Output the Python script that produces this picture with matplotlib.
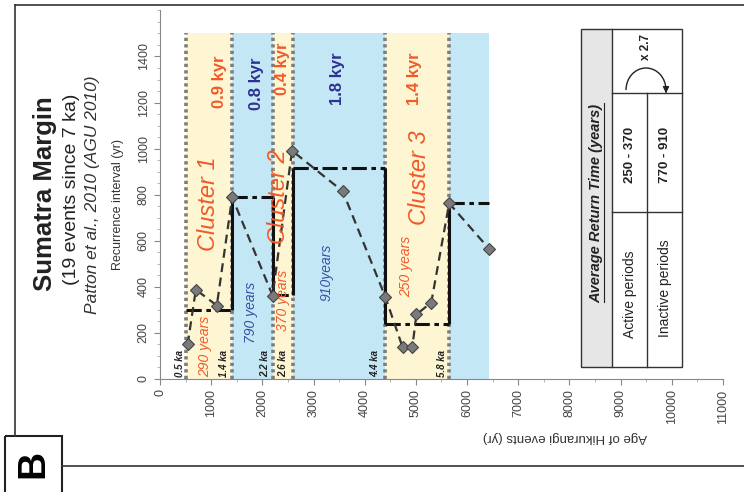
import numpy as np
import matplotlib
matplotlib.use("Agg")
import matplotlib.pyplot as plt
from matplotlib.patches import Rectangle, Arc

plt.rcParams["font.family"] = ["Liberation Sans", "DejaVu Sans"]

# event ages (yr) and recurrence intervals (yr)
ages = [540, 700, 1110, 1410, 2200, 2580, 3570, 4400, 4740, 4930, 5010, 5300, 5650, 6430]
intervals = [150, 388, 319, 789, 362, 991, 815, 358, 138, 138, 280, 332, 763, 565]

# active / inactive periods
period_start = [500, 1400, 2200, 2600, 4400, 5650]
period_end = [1400, 2200, 2600, 4400, 5650, 6430]
period_active = [True, False, True, False, True, False]
period_mean = [300, 790, 365, 915, 240, 765]
period_top = 1500

# boundary labels
boundary_x = [500, 1400, 2200, 2600, 4400, 5650]
boundary_labels = ["0.5 ka", "1.4 ka", "2.2 ka", "2.6 ka", "4.4 ka", "5.8 ka"]
boundary_label_x = [390, 1250, 2050, 2400, 4210, 5515]

# duration labels
kyr_labels = ["0.9 kyr", "0.8 kyr", "0.4 kyr", "1.8 kyr", "1.4 kyr"]
kyr_x = [1170, 1890, 2400, 3470, 4970]
kyr_y = [1290, 1280, 1345, 1305, 1305]
kyr_active = [True, False, True, False, True]

cluster_labels = ["Cluster 1", "Cluster 2", "Cluster 3"]
cluster_x = [940, 2320, 5070]
cluster_y = [760, 790, 872]

year_labels = ["290 years", "790 years", "370 years", "910years", "250 years"]
year_x = [877, 1775, 2400, 3250, 4800]
year_y = [140, 290, 343, 465, 490]
year_active = [True, False, True, False, True]

ORANGE = "#f15a29"
NAVY = "#2e3192"
BLUE = "#3d4ea3"
YELLOW = "#fef6d3"
SKY = "#c4e7f6"

fig = plt.figure(figsize=(7.44, 4.92), dpi=100)

# overlay in pixel coordinates for frame, titles and table
ov = fig.add_axes([0, 0, 1, 1])
ov.set_xlim(0, 744)
ov.set_ylim(492, 0)
ov.axis("off")

ov.plot([15, 744], [5, 5], color="#333", lw=1.2)
ov.plot([15, 15], [5, 436], color="#333", lw=1.2)
ov.plot([62, 744], [466, 466], color="#333", lw=1.2)
ov.add_patch(Rectangle((5, 436), 57, 60, fill=False, ec="#222", lw=1.5))
ov.text(33, 464, "B", rotation=90, fontsize=28, fontweight="bold", ha="center", va="center")

ov.text(45, 194, "Sumatra Margin", rotation=90, fontsize=18.5, fontweight="bold",
        ha="center", va="center", color="#222")
ov.text(71, 189, "(19 events since 7 ka)", rotation=90, fontsize=14,
        ha="center", va="center", color="#222")
ov.text(92, 195, "Patton et al., 2010 (AGU 2010)", rotation=90, fontsize=12.5,
        style="italic", ha="center", va="center", color="#333")
ov.text(118, 205, "Recurrence interval (yr)", rotation=90, fontsize=9,
        ha="center", va="center", color="#333")
ov.text(565, 437, "Age of Hikurangi events (yr)", rotation=180, fontsize=9.5,
        ha="center", va="center", color="#333")

# table
ov.add_patch(Rectangle((581, 29), 31, 338, fc="#e6e6e6", ec="none"))
ov.add_patch(Rectangle((581, 29), 101, 338, fill=False, ec="#333", lw=1))
ov.plot([612, 612], [29, 367], color="#333", lw=1)
ov.plot([647, 647], [93, 367], color="#333", lw=1)
ov.plot([612, 682], [93, 93], color="#333", lw=1)
ov.plot([612, 682], [212, 212], color="#333", lw=1)
ov.text(596, 203, "Average Return Time (years)", rotation=90, fontsize=10.5,
        style="italic", fontweight="bold", ha="center", va="center", color="#222")
ov.plot([604, 604], [103, 302], color="#222", lw=0.8)
ov.text(630, 155, "250 - 370", rotation=90, fontsize=9.5, fontweight="bold",
        ha="center", va="center", color="#222")
ov.text(665, 155, "770 - 910", rotation=90, fontsize=9.5, fontweight="bold",
        ha="center", va="center", color="#222")
ov.text(630, 294, "Active periods", rotation=90, fontsize=10,
        ha="center", va="center", color="#222")
ov.text(665, 288, "Inactive periods", rotation=90, fontsize=10,
        ha="center", va="center", color="#222")
ov.add_patch(Arc((646, 90), 40, 44, theta1=180, theta2=360, color="#222", lw=1))
ov.annotate("", xy=(666, 96), xytext=(666, 88),
            arrowprops=dict(arrowstyle="-|>", color="#222", lw=1, mutation_scale=9))
ov.text(646, 47, "x 2.7", rotation=90, fontsize=8.5, fontweight="bold",
        ha="center", va="center", color="#222")

# main chart
ax = fig.add_axes([160 / 744, (492 - 379) / 492, 563 / 744, 368.6 / 492])
ax.patch.set_alpha(0)

widths = [e - s for s, e in zip(period_start, period_end)]
ax.bar(period_start, [period_top] * len(period_start), width=widths, align="edge",
       color=[YELLOW if a else SKY for a in period_active], zorder=0)
ax.vlines(boundary_x, 0, period_top, colors="#7d7d7d", lw=2.6,
          linestyles=(0, (0.9, 0.9)), zorder=1)

# mean recurrence steps
ax.hlines(period_mean, period_start, period_end, colors="#111", lw=2.2,
          linestyles=(0, (5, 1.5, 1.5, 1.5)), zorder=3)
ax.vlines(period_start[1:], period_mean[:-1], period_mean[1:], colors="#111",
          lw=2.2, zorder=3)

ax.plot(ages, intervals, ls=(0, (4, 2.5)), color="#333", lw=1.6, marker="D",
        ms=6.5, mfc="#7a7a7a", mec="#444", mew=0.8, zorder=4)

for x, lab in zip(boundary_label_x, boundary_labels):
    ax.text(x, 8, lab, rotation=90, fontsize=7, fontweight="bold", style="italic",
            ha="center", va="bottom", color="#222", zorder=5)
for x, y, lab, a in zip(kyr_x, kyr_y, kyr_labels, kyr_active):
    ax.text(x, y, lab, rotation=90, fontsize=12, fontweight="bold",
            ha="center", va="center", color=ORANGE if a else NAVY, zorder=5)
for x, y, lab in zip(cluster_x, cluster_y, cluster_labels):
    ax.text(x, y, lab, rotation=90, fontsize=17, style="italic",
            ha="center", va="center", color=ORANGE, zorder=5)
for x, y, lab, a in zip(year_x, year_y, year_labels, year_active):
    ax.text(x, y, lab, rotation=90, fontsize=10, style="italic",
            ha="center", va="center", color=ORANGE if a else BLUE, zorder=5)

ax.set_xlim(0, 11000)
ax.set_ylim(0, 1600)
ax.set_xticks(np.arange(0, 11001, 1000))
ax.set_xticks(np.arange(0, 11001, 500), minor=True)
ax.set_yticks(np.arange(0, 1401, 200))
ax.set_yticks(np.arange(0, 1601, 50), minor=True)
ax.tick_params(axis="both", which="major", length=4, color="#888", labelsize=9,
               labelcolor="#444")
ax.tick_params(axis="both", which="minor", length=2.5, color="#aaa")
ax.tick_params(axis="x", labelrotation=90)
ax.tick_params(axis="y", labelrotation=90)
for lab in ax.get_yticklabels():
    lab.set_va("center")
for s in ["top", "right"]:
    ax.spines[s].set_visible(False)
for s in ["left", "bottom"]:
    ax.spines[s].set_color("#888")

fig.savefig("out.png", dpi=100)
